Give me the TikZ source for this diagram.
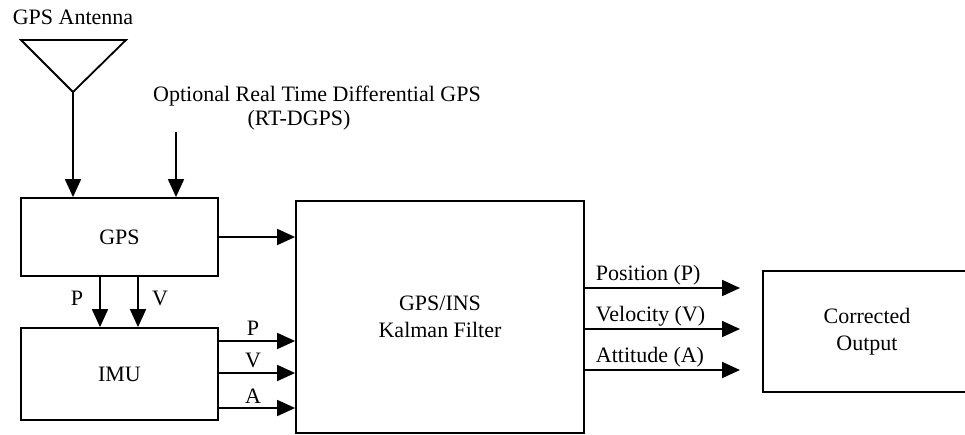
\documentclass[tikz,border=0pt]{standalone}
\usepackage{fontspec}
\setmainfont{Liberation Serif}
\usetikzlibrary{arrows.meta,calc}
\begin{document}
\begin{tikzpicture}[x=1pt,y=-1pt,
  line width=1.8pt,
  font=\fontsize{22}{27}\selectfont,
  blk/.style={draw,line width=1.8pt,inner sep=0pt,align=center},
  arr/.style={-{Triangle[length=18pt,width=16pt]}},
  lbl/.style={inner sep=0pt,anchor=center}]
\useasboundingbox (0,0) rectangle (965,434);
\clip (0,0) rectangle (965,434);

% blocks
\node[blk,minimum width=197pt,minimum height=78pt] (gps) at (119.5,237) {GPS};
\node[blk,minimum width=197pt,minimum height=92pt] (imu) at (119.5,374) {IMU};
\node[blk,minimum width=288pt,minimum height=232pt] (kf) at (440,317) {GPS/INS\\Kalman Filter};
\node[blk,minimum width=208pt,minimum height=121pt] (out) at (867,331.5) {Corrected\\Output};

% antenna
\coordinate (apex) at (73,92);
\draw[line join=miter] (21,40) -- (126,40) -- (apex) -- cycle;
\node[lbl] (antlbl) at (73,17) {GPS Antenna};
\draw[arr] (apex) -- (apex |- gps.north);

% differential correction input
\node[lbl] (dg1) at (317,96) {Optional Real Time Differential GPS};
\node[lbl] (dg2) at (299,120) {(RT-DGPS)};
\coordinate (dgin) at (176,132);
\draw[arr] (dgin) -- (dgin |- gps.north);

% GPS outputs
\draw[arr] (gps.east) -- (gps.east -| kf.west);
\draw[arr] ($(gps.south)+(-19.5,0)$) coordinate (gp) -- (gp |- imu.north);
\draw[arr] ($(gps.south)+(18.5,0)$) coordinate (gv) -- (gv |- imu.north);
\node[lbl] (lp) at (77,298) {P};
\node[lbl] (lv) at (160,298) {V};

% IMU outputs
\foreach \yy/\tt/\ly in {341/P/328, 373/V/360, 408/A/396}{
  \coordinate (s) at (imu.east |- 0,\yy);
  \draw[arr] (s) -- (s -| kf.west);
  \node[lbl] at (253,\ly) {\tt};
}

% filter outputs
\coordinate (oend) at (740,0);
\foreach \yy/\tt/\ly in {288/Position (P)/275, 329/Velocity (V)/316, 370/Attitude (A)/357}{
  \coordinate (s) at (kf.east |- 0,\yy);
  \draw[arr] (s) -- (oend |- s);
  \node[lbl,anchor=west] at (595,\ly) {\tt};
}
\end{tikzpicture}
\end{document}
